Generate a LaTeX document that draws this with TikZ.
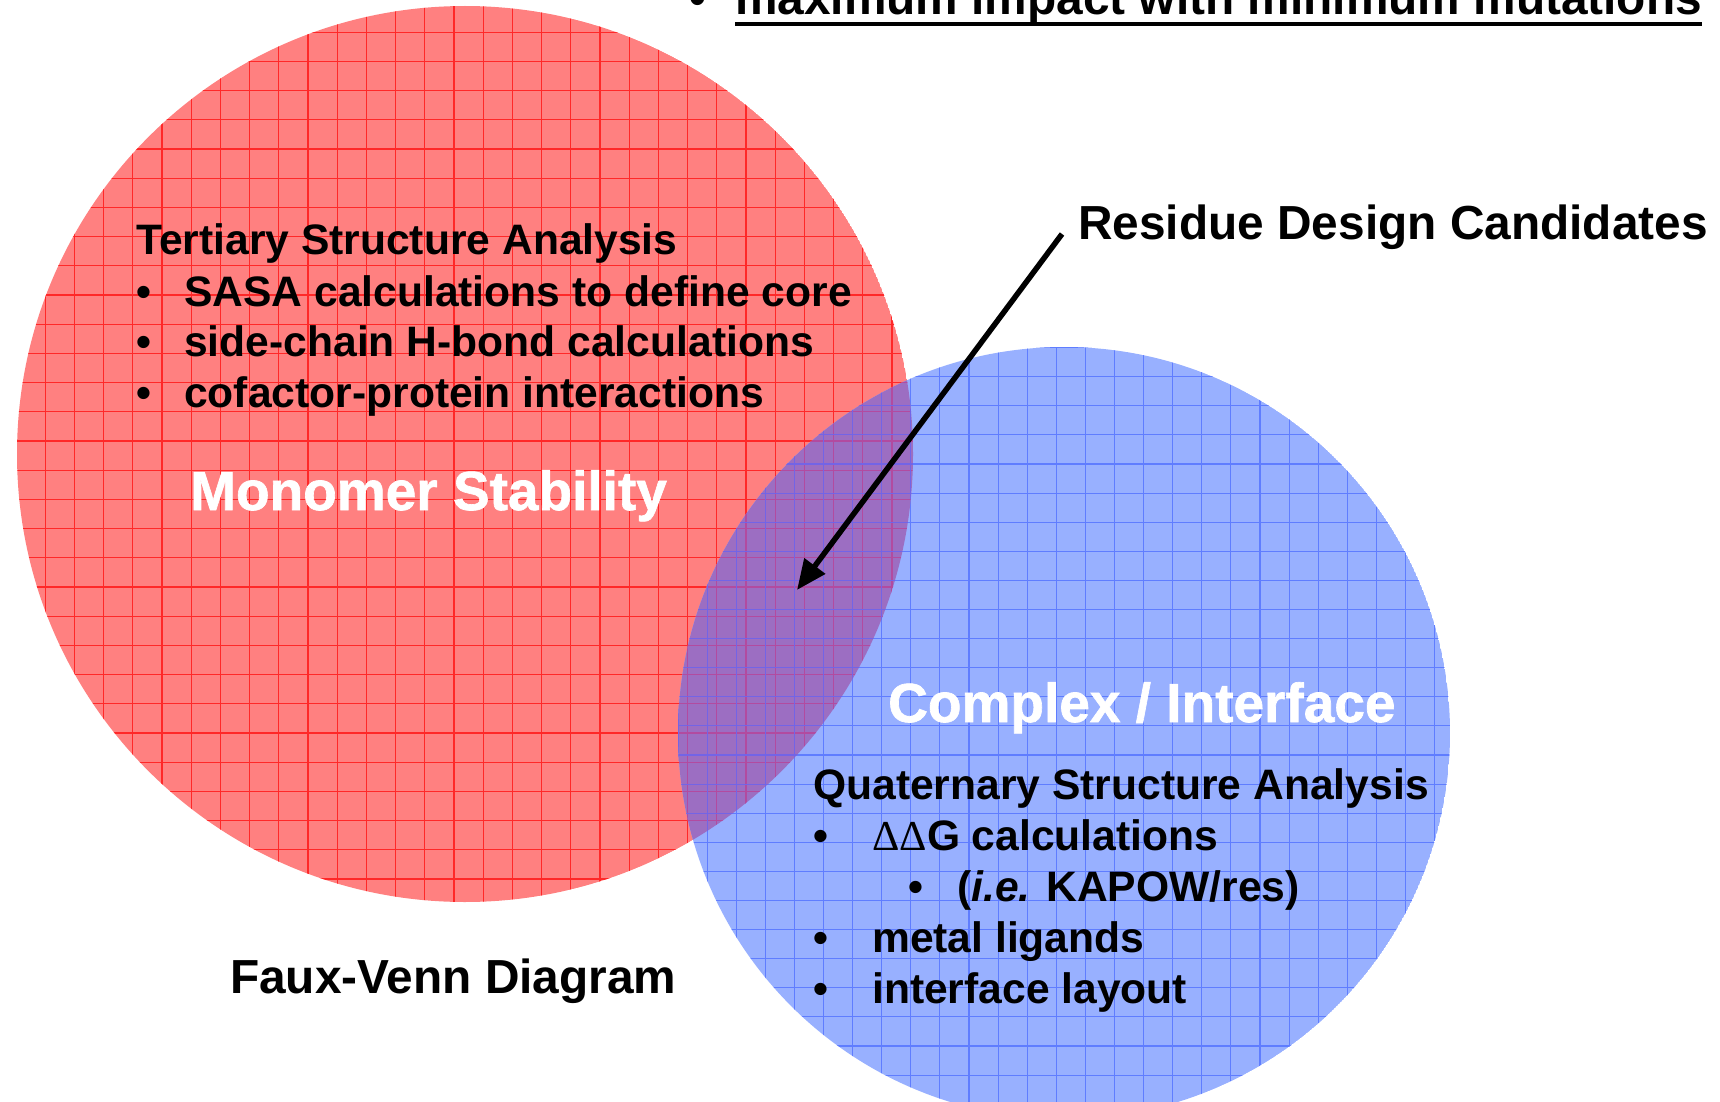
\documentclass[tikz,border=0pt]{standalone}
\usepackage{fontspec}
\setmainfont{Liberation Sans}
\newfontfamily\deltafont{Liberation Serif}
\newfontfamily\heavyfont[FakeBold=1.2]{Liberation Sans Bold}
\usetikzlibrary{arrows.meta,positioning}

\definecolor{stabfill}{RGB}{255,128,128}
\definecolor{stabline}{RGB}{255,40,40}
\definecolor{cplxfill}{RGB}{152,176,255}
\definecolor{cplxline}{RGB}{95,125,255}
\definecolor{mixfill}{RGB}{156,110,194}
\definecolor{mixred}{RGB}{178,75,160}
\definecolor{mixblue}{RGB}{115,100,230}

\tikzset{
  bodytxt/.style={anchor=base west,inner sep=0pt,font=\bfseries\fontsize{42.6pt}{51pt}\selectfont},
  bigtxt/.style={anchor=base west,inner sep=0pt,font=\bfseries\fontsize{47.8pt}{57pt}\selectfont},
  circtxt/.style={anchor=base west,inner sep=0pt,text=white,font=\heavyfont\fontsize{55pt}{64pt}\selectfont},
  gridln/.style={line width=1.1pt},
}

\begin{document}
\begin{tikzpicture}[x=1pt,y=-1pt,>=Latex]
\clip (0,0) rectangle (1720,1102);
\fill[white] (0,0) rectangle (1720,1102);
\coordinate (rc) at (465,454);
\coordinate (bc) at (1064,733);
% red circle
\begin{scope}
\clip (rc) circle (448pt);
\fill[stabfill] (rc) circle (448pt);
\foreach \i in {0,...,31} \draw[gridln,stabline] ({16+29.2*\i},0) -- ({16+29.2*\i},910);
\foreach \i in {0,...,31} \draw[gridln,stabline] (0,{3+29.2*\i}) -- (920,{3+29.2*\i});
\end{scope}
% blue circle
\begin{scope}
\clip (bc) circle (386pt);
\fill[cplxfill] (bc) circle (386pt);
\foreach \i in {0,...,27} \draw[gridln,cplxline] ({678+29.1*\i},340) -- ({678+29.1*\i},1120);
\foreach \i in {0,...,26} \draw[gridln,cplxline] (670,{347.6+29.1*\i}) -- (1460,{347.6+29.1*\i});
\end{scope}
% overlap
\begin{scope}
\clip (rc) circle (448pt);
\clip (bc) circle (386pt);
\fill[mixfill] (bc) circle (386pt);
\foreach \i in {0,...,31} \draw[gridln,mixred] ({16+29.2*\i},0) -- ({16+29.2*\i},910);
\foreach \i in {0,...,31} \draw[gridln,mixred] (0,{3+29.2*\i}) -- (920,{3+29.2*\i});
\foreach \i in {0,...,27} \draw[gridln,mixblue] ({678+29.1*\i},340) -- ({678+29.1*\i},1120);
\foreach \i in {0,...,26} \draw[gridln,mixblue] (670,{347.6+29.1*\i}) -- (1460,{347.6+29.1*\i});
\end{scope}

\node[bigtxt] (topb) at (689,15) {•};
\node[bigtxt] (top) at (735,15) {maximum impact with minimum mutations};
\draw[line width=3.5pt] ([yshift=-9pt]top.base west) -- ([yshift=-9pt]top.base east);

\node[bodytxt] (tsa) at (136,254) {Tertiary Structure Analysis};
\node[bodytxt] (tb1) at (136,306) {•};
\node[bodytxt] (tt1) at (184,306) {SASA calculations to define core};
\node[bodytxt] (tb2) at (136,356) {•};
\node[bodytxt] (tt2) at (184,356) {side-chain H-bond calculations};
\node[bodytxt] (tb3) at (136,407) {•};
\node[bodytxt] (tt3) at (184,407) {cofactor-protein interactions};
\node[circtxt] (mono) at (190,510) {Monomer Stability};

\node[circtxt] (cplx) at (888,722) {Complex / Interface};
\node[bodytxt] (qsa) at (813,799) {Quaternary Structure Analysis};
\node[bodytxt] (qb1) at (813,850) {•};
\node[bodytxt] (qt1) at (872,850) {{\deltafont\mdseries ΔΔ}G calculations};
\node[bodytxt] (qb2) at (908,901) {•};
\node[bodytxt] (qt2) at (957,901) {(\textit{i.e.} KAPOW/res)};
\node[bodytxt] (qb3) at (813,952) {•};
\node[bodytxt] (qt3) at (872,952) {metal ligands};
\node[bodytxt] (qb4) at (813,1003) {•};
\node[bodytxt] (qt4) at (872,1003) {interface layout};

\node[bigtxt] (rdc) at (1078,239) {Residue Design Candidates};
\node[bigtxt] (fvd) at (230,993) {Faux-Venn Diagram};

\coordinate (tip) at (797,590);
\draw[line width=5.5pt,-{Triangle[length=30pt,width=25pt]}] ([shift={(-16pt,5pt)}]rdc.base west) -- (tip);
\end{tikzpicture}
\end{document}
